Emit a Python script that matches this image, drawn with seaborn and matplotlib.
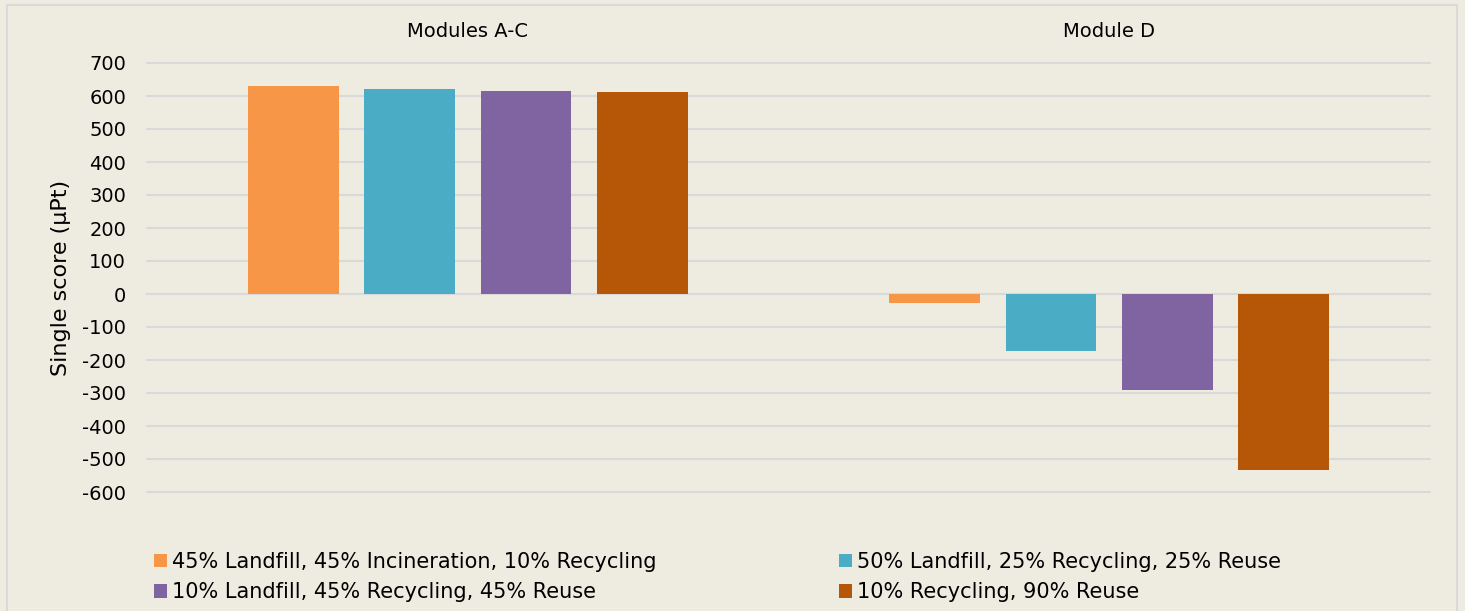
"""Single score per end-of-life scenario, modules A-C vs module D."""

import matplotlib.pyplot as plt
import pandas as pd
import seaborn as sns
from matplotlib.patches import Patch, Rectangle


BG = "#EEECE1"
GRID = "#D9D9D9"

modules = ["Modules A-C", "Module D"]
scenarios = [
    "45% Landfill, 45% Incineration, 10% Recycling",
    "50% Landfill, 25% Recycling, 25% Reuse",
    "10% Landfill, 45% Recycling, 45% Reuse",
    "10% Recycling, 90% Reuse",
]
scores_ac = [631, 621, 615, 611]
scores_d = [-27, -174, -292, -534]
colors = ["#F79646", "#4BACC6", "#8064A2", "#B65708"]
y_ticks = list(range(-600, 701, 100))


df = pd.DataFrame(
    {
        "module": [modules[0]] * 4 + [modules[1]] * 4,
        "scenario": scenarios * 2,
        "score": scores_ac + scores_d,
    }
)

sns.set_style("white")
plt.rcParams["font.family"] = ["DejaVu Sans"]
plt.rcParams["axes.unicode_minus"] = False
plt.rcParams["text.color"] = "black"
plt.rcParams["axes.labelcolor"] = "black"
plt.rcParams["xtick.labelcolor"] = "black"
plt.rcParams["ytick.labelcolor"] = "black"
FS = 14

W, H = 1465, 611
fig = plt.figure(figsize=(W / 100, H / 100), dpi=100, facecolor=BG)
fig.patches.append(
    Rectangle(
        (7 / W, -0.02), 1450 / W, (H - 5) / H + 0.02,
        transform=fig.transFigure, facecolor="none", edgecolor=GRID, lw=1.5,
    )
)

ax = fig.add_axes([147 / W, 1 - 492 / H, (1430 - 147) / W, (492 - 63) / H])
ax.set_facecolor(BG)

sns.barplot(
    data=df, x="module", y="score", hue="scenario",
    order=modules, hue_order=scenarios,
    palette=dict(zip(scenarios, colors)), saturation=1,
    width=0.725, gap=0.22, linewidth=0, ax=ax, legend=False, zorder=3,
)

ax.set_ylim(-600, 700)
ax.set_xlim(-0.5, 1.5)
ax.set_yticks(y_ticks)
ax.yaxis.grid(True, color=GRID, lw=1.5, zorder=0)
for gl in ax.get_ygridlines():
    gl.set_clip_on(False)
ax.set_axisbelow(True)
ax.tick_params(axis="y", length=0, pad=15, labelsize=FS)

for side in ["top", "right", "left"]:
    ax.spines[side].set_visible(False)
ax.spines["bottom"].set_position(("data", 0))
ax.spines["bottom"].set_color(GRID)
ax.spines["bottom"].set_linewidth(1.5)
ax.spines["bottom"].set_zorder(2)

# category labels above the plot, boundary ticks on the zero line
ax.set_xticks([0, 1])
ax.set_xticklabels(modules)
ax.set_xticks([-0.5, 0.5, 1.5], minor=True)
ax.tick_params(axis="x", which="major", length=0, labeltop=True,
               labelbottom=False, pad=16, labelsize=FS)
ax.tick_params(axis="x", which="minor", length=6, width=1.5,
               color=GRID, direction="out")
ax.set_xlabel("")
ax.set_ylabel("Single score (µPt)", fontsize=16, labelpad=8)

handles = [Patch(facecolor=c, edgecolor="none") for c in colors]
for i, x in enumerate([154 / W, 839 / W]):
    fig.legend(
        handles=[handles[i], handles[i + 2]],
        labels=[scenarios[i], scenarios[i + 2]],
        loc="upper left", bbox_to_anchor=(x, 1 - 552 / H),
        frameon=False, fontsize=15, handlelength=0.6, handleheight=0.6,
        handletextpad=0.25, labelspacing=0.5, borderpad=0, borderaxespad=0,
    )

fig.savefig("out.png", dpi=100, facecolor=BG)
